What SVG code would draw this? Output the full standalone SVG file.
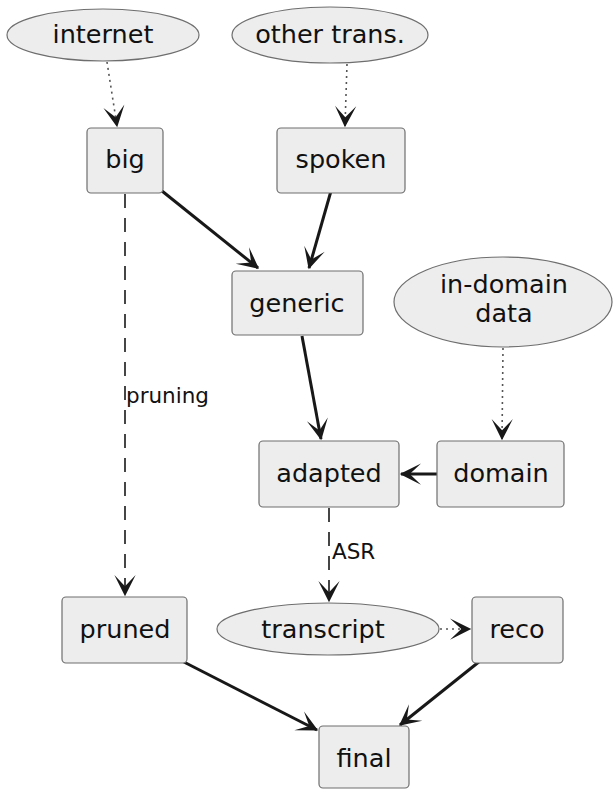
<svg xmlns="http://www.w3.org/2000/svg" width="613" height="790" viewBox="0 0 613 790">
<style>
.n{fill:#EDEDED;stroke:#6E6E6E;stroke-width:1.2}
.t{font-family:"DejaVu Sans",sans-serif;font-size:25.5px;fill:#111;text-anchor:middle}
.l{font-family:"DejaVu Sans",sans-serif;font-size:21.5px;fill:#111}
.s{fill:none;stroke:#181818;stroke-width:3}
.d{fill:none;stroke:#181818;stroke-width:1.6;stroke-dasharray:14,10}
.o{fill:none;stroke:#555;stroke-width:1.6;stroke-dasharray:2,4}
</style>
<defs>
<marker id="a" markerUnits="userSpaceOnUse" markerWidth="30" markerHeight="30" viewBox="-20 -10 24 20" refX="-1" refY="0" orient="auto" overflow="visible">
<path d="M0,0 L-17,-8.5 L-8,0 L-17,8.5 Z" fill="#181818"/>
</marker>
</defs>
<rect width="613" height="790" fill="#fff"/>
<g id="connectors">
<path class="o" d="M107,62 L117,126" marker-end="url(#a)"/>
<path class="o" d="M347,64 L345,126" marker-end="url(#a)"/>
<path class="s" d="M162,191 L258,268" marker-end="url(#a)"/>
<path class="s" d="M331,191 L309,268" marker-end="url(#a)"/>
<path class="d" d="M125,194 L125,595" marker-end="url(#a)"/>
<path class="s" d="M302,336 L321,439" marker-end="url(#a)"/>
<path class="o" d="M503,348 L502,439" marker-end="url(#a)"/>
<path class="s" d="M437,474 L401,474" marker-end="url(#a)"/>
<path class="d" d="M329,508 L329,601" marker-end="url(#a)"/>
<path class="o" d="M440,629 L470,629" marker-end="url(#a)"/>
<path class="s" d="M180,660 L317,730" marker-end="url(#a)"/>
<path class="s" d="M480,661 L400,725" marker-end="url(#a)"/>
<text class="l" x="126" y="403">pruning</text>
<text class="l" x="332" y="559">ASR</text>
</g>
<g id="internet"><ellipse class="n" cx="103" cy="35" rx="96" ry="26"/><text class="t" x="103" y="43">internet</text></g>
<g id="other_trans"><ellipse class="n" cx="330" cy="35" rx="98" ry="28"/><text class="t" x="330" y="43">other trans.</text></g>
<g id="big"><rect class="n" x="87" y="128" width="76" height="65" rx="4"/><text class="t" x="125" y="168">big</text></g>
<g id="spoken"><rect class="n" x="277" y="128" width="128" height="65" rx="4"/><text class="t" x="341" y="168">spoken</text></g>
<g id="generic"><rect class="n" x="232" y="271" width="131" height="64" rx="4"/><text class="t" x="297" y="312">generic</text></g>
<g id="in_domain_data"><ellipse class="n" cx="503" cy="302" rx="109" ry="45"/><text class="t" x="504" y="293">in-domain</text><text class="t" x="504" y="322">data</text></g>
<g id="adapted"><rect class="n" x="259" y="441" width="140" height="66" rx="4"/><text class="t" x="329" y="482">adapted</text></g>
<g id="domain"><rect class="n" x="437" y="441" width="127" height="66" rx="4"/><text class="t" x="501" y="482">domain</text></g>
<g id="pruned"><rect class="n" x="62" y="597" width="125" height="66" rx="4"/><text class="t" x="125" y="638">pruned</text></g>
<g id="transcript"><ellipse class="n" cx="328" cy="629" rx="111" ry="26"/><text class="t" x="323" y="638">transcript</text></g>
<g id="reco"><rect class="n" x="472" y="597" width="91" height="66" rx="4"/><text class="t" x="517" y="638">reco</text></g>
<g id="final"><rect class="n" x="319" y="726" width="90" height="62" rx="4"/><text class="t" x="364" y="767">final</text></g>
</svg>
